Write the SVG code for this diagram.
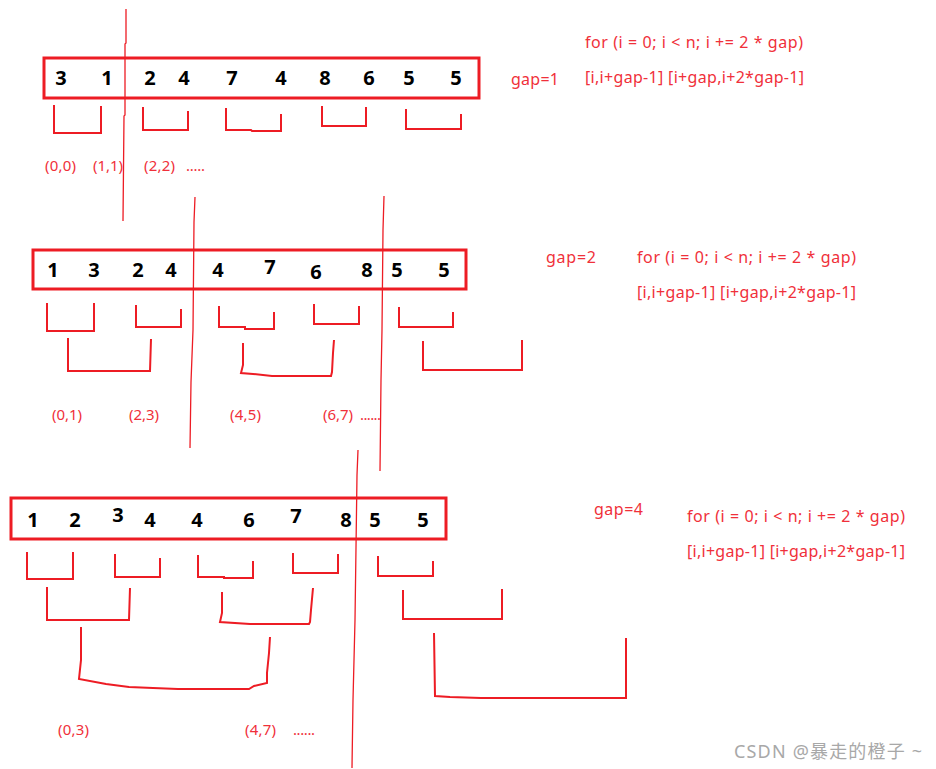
<svg xmlns="http://www.w3.org/2000/svg" width="936" height="769" viewBox="0 0 936 769">
<style>
.box{fill:none;stroke:#ED1C24;stroke-width:3}
.br{fill:none;stroke:#ED1C24;stroke-width:2;stroke-linejoin:miter}
.cut{fill:none;stroke:#ED1C24;stroke-width:1.3}
.num{font-family:"Noto Sans","Liberation Sans",sans-serif;font-weight:bold;font-size:20px;fill:#000;text-anchor:middle}
.lbl{font-family:"Noto Sans","Liberation Sans",sans-serif;font-size:15px;fill:#F0303A}
.code{font-family:"Noto Sans","Liberation Sans",sans-serif;font-size:16px;fill:#F0303A}
.wm{font-family:"Noto Sans","Noto Sans CJK SC",sans-serif;font-size:18px;fill:#A8A8A8}
</style>
<rect width="936" height="769" fill="#fff"/>

<g id="row1">
<rect class="box" x="44" y="58" width="435" height="40"/>
<g class="num">
<text x="61" y="85">3</text><text x="107" y="85">1</text><text x="150" y="85">2</text><text x="184" y="85">4</text><text x="232" y="85">7</text><text x="281" y="85">4</text><text x="325" y="85">8</text><text x="369" y="85">6</text><text x="409" y="85">5</text><text x="456" y="85">5</text>
</g>
<path class="br" d="M54,105 V133 H101 V106"/>
<path class="br" d="M143,107 V130 H188 V111"/>
<path class="br" d="M226,108 V130 H251 L252,131 H281 V114"/>
<path class="br" d="M322,106 V126 H366 V107"/>
<path class="br" d="M406,109 V129 H461 V114"/>
<text class="lbl" x="45" y="171" textLength="31">(0,0)</text>
<text class="lbl" x="93" y="171" textLength="30">(1,1)</text>
<text class="lbl" x="144" y="171" textLength="31">(2,2)</text>
<text class="lbl" x="186" y="171" textLength="19">.....</text>
<text class="code" x="511" y="85" textLength="48">gap=1</text>
<text class="code" x="585" y="48" textLength="218">for (i = 0; i &lt; n; i += 2 * gap)</text>
<text class="code" x="585" y="83" textLength="219">[i,i+gap-1] [i+gap,i+2*gap-1]</text>
</g>

<g id="row2">
<rect class="box" x="33" y="250" width="433" height="39"/>
<g class="num">
<text x="53" y="277">1</text><text x="94" y="277">3</text><text x="138" y="277">2</text><text x="171" y="277">4</text><text x="218" y="277">4</text><text x="270" y="274">7</text><text x="316" y="279">6</text><text x="367" y="277">8</text><text x="397" y="277">5</text><text x="444" y="277">5</text>
</g>
<path class="br" d="M47,303 V331 H94 V303"/>
<path class="br" d="M136,305 V327 H181 V309"/>
<path class="br" d="M219,306 V327 H245 V329 H274 V312"/>
<path class="br" d="M314,304 V324 H359 V306"/>
<path class="br" d="M399,307 V327 H453 V312"/>
<path class="br" d="M68,338 V371 H150 L151,339"/>
<path class="br" d="M243,343 V365 L241,373 L253,374 L272,376 H331 L332,372 L333,353 L334,340"/>
<path class="br" d="M423,341 V370 H522 V340"/>
<text class="lbl" x="52" y="420" textLength="30">(0,1)</text>
<text class="lbl" x="129" y="420" textLength="30">(2,3)</text>
<text class="lbl" x="230" y="420" textLength="31">(4,5)</text>
<text class="lbl" x="323" y="420" textLength="30">(6,7)</text>
<text class="lbl" x="360" y="420" textLength="21">......</text>
<text class="code" x="546" y="263" textLength="50">gap=2</text>
<text class="code" x="637" y="263" textLength="219">for (i = 0; i &lt; n; i += 2 * gap)</text>
<text class="code" x="637" y="298" textLength="219">[i,i+gap-1] [i+gap,i+2*gap-1]</text>
</g>

<g id="row3">
<rect class="box" x="11" y="498" width="435" height="41"/>
<g class="num">
<text x="33" y="527">1</text><text x="75" y="527">2</text><text x="118" y="522">3</text><text x="150" y="527">4</text><text x="197" y="527">4</text><text x="249" y="527">6</text><text x="296" y="523">7</text><text x="346" y="527">8</text><text x="375" y="527">5</text><text x="423" y="527">5</text>
</g>
<path class="br" d="M27,552 V579 H73 V552"/>
<path class="br" d="M115,554 V577 H160 V558"/>
<path class="br" d="M198,555 V577 H224 V578 H253 V561"/>
<path class="br" d="M293,553 V573 H338 V554"/>
<path class="br" d="M378,556 V576 H433 V561"/>
<path class="br" d="M47,587 V620 H129 L130,588"/>
<path class="br" d="M222,592 V613 L220,622 L250,624 H309 L310,622 L311,610 L313,588"/>
<path class="br" d="M403,590 V619 H502 V589"/>
<path class="br" d="M81,627 V660 L79,679 L106,684 L129,687 L153,688 L178,689 H249 L254,686 L267,683 L267,673 L269,653 L270,637"/>
<path class="br" d="M434,633 L435,696 L450,697 L481,698 H626 V638"/>
<text class="lbl" x="58" y="735" textLength="31">(0,3)</text>
<text class="lbl" x="245" y="735" textLength="31">(4,7)</text>
<text class="lbl" x="293" y="735" textLength="22">......</text>
<text class="code" x="594" y="515" textLength="49">gap=4</text>
<text class="code" x="687" y="522" textLength="218">for (i = 0; i &lt; n; i += 2 * gap)</text>
<text class="code" x="687" y="557" textLength="218">[i,i+gap-1] [i+gap,i+2*gap-1]</text>
</g>

<g id="cuts">
<polyline class="cut" points="126,9 126,43 125,44 125,115 124,116 123,221"/>
<polyline class="cut" points="195,197 194,222 193,330 191,382 190,448"/>
<polyline class="cut" points="384,196 383,230 382,330 381,380 380,471"/>
<polyline class="cut" points="358,450 357,475 355,620 353,700 352,768"/>
</g>

<text class="wm" x="734" y="758" textLength="188">CSDN @暴走的橙子 ~</text>
</svg>
